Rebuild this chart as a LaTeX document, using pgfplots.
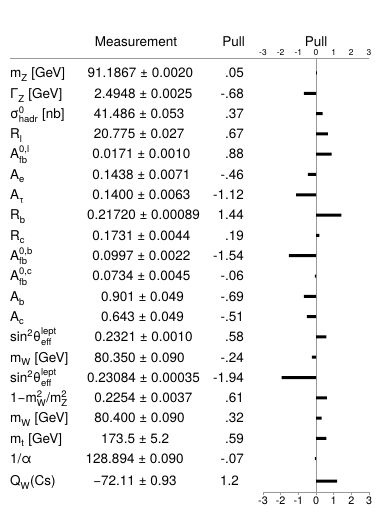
\documentclass[border=0pt]{standalone}
\usepackage{fontspec}
\setmainfont{TeX Gyre Heros}
\usepackage{amsmath}
\usepackage{pgfplots}
\pgfplotsset{compat=1.18}

% one table row: centre y (px), name, value centre x, value, pull
\newcommand\row[5]{%
  \node[txt,anchor=base west] at (10pt,-#1pt) {#2};
  \node[txt,anchor=base] at (#3pt,-#1pt) {#4};
  \node[txt,anchor=base east] at (244pt,-#1pt) {#5};}
\newcommand\su[2]{$^{\text{#1}}_{\text{#2}}$}
\newcommand\lo[1]{$^{}_{\text{#1}}$}

\begin{document}
\begin{tikzpicture}[txt/.style={font=\fontsize{13.5}{16}\selectfont, inner sep=0pt, yshift=-4.8pt}]
\useasboundingbox (0,0) rectangle (381pt,-521pt);

\begin{axis}[
    at={(263pt,-492pt)}, anchor=south west,
    width=106pt, height=434pt, scale only axis,
    xmin=-3, xmax=3, ymin=-492, ymax=-58,
    axis x line*=bottom, axis y line=none,
    x axis line style={-, draw=gray!80},
    xtick={-3,...,3}, xticklabels={-3,-2,-1,0,1,2,3},
    tick align=outside, major tick length=3pt,
    every tick/.style={gray!80},
    xticklabel style={font=\fontsize{10.8}{12}\selectfont, inner sep=2pt},
    extra x ticks={0}, extra x tick labels={},
    extra x tick style={grid=major, major grid style={gray!80, line width=0.5pt}, major tick length=0pt},
    clip=false,
]
\addplot[xbar, bar width=3pt, fill=black, draw=none] coordinates {
  (0.05,-73) (-0.68,-93.3) (0.37,-113.6) (0.67,-133.9) (0.88,-154.2)
  (-0.46,-174.5) (-1.12,-194.8) (1.44,-215.1) (0.19,-235.4) (-1.54,-255.7)
  (-0.06,-276) (-0.69,-296.3) (-0.51,-316.6) (0.58,-336.9) (-0.24,-357.2)
  (-1.94,-377.5) (0.61,-397.8) (0.32,-418.1) (0.59,-438.4) (-0.07,-458.7)
  (1.2,-481)};
\end{axis}

\begin{axis}[
    at={(263pt,-492pt)}, anchor=south west,
    width=106pt, height=434pt, scale only axis,
    xmin=-3, xmax=3, ymin=-492, ymax=-58,
    axis x line*=top, axis y line=none,
    x axis line style={draw=none},
    xtick={-3,...,3}, xticklabels={-3,-2,-1,0,1,2,3},
    major tick length=0pt,
    xticklabel style={font=\fontsize{8.5}{9}\selectfont, inner sep=2pt},
]
\end{axis}

\draw[gray!80, line width=0.5pt] (10pt,-58pt) -- (369pt,-58pt);

\node[txt,anchor=base] at (136pt,-41.7pt) {Measurement};
\node[txt,anchor=base east] at (245pt,-41.7pt) {Pull};
\node[txt,anchor=base] at (316pt,-41.7pt) {Pull};

\row{73}{m\lo{Z} [GeV]}{140.3}{91.1867 ± 0.0020}{.05}
\row{93.3}{Γ\lo{Z} [GeV]}{143.3}{2.4948 ± 0.0025}{-.68}
\row{113.6}{σ\su{0}{hadr} [nb]}{139.2}{41.486 ± 0.053}{.37}
\row{133.9}{R\lo{l}}{139.2}{20.775 ± 0.027}{.67}
\row{154.2}{A\su{0,l}{fb}}{141.3}{0.0171 ± 0.0010}{.88}
\row{174.5}{A\lo{e}}{141.3}{0.1438 ± 0.0071}{-.46}
\row{194.8}{A\lo{τ}}{141.3}{0.1400 ± 0.0063}{-1.12}
\row{215.1}{R\lo{b}}{143.5}{0.21720 ± 0.00089}{1.44}
\row{235.4}{R\lo{c}}{141.3}{0.1731 ± 0.0044}{.19}
\row{255.7}{A\su{0,b}{fb}}{141.3}{0.0997 ± 0.0022}{-1.54}
\row{276}{A\su{0,c}{fb}}{141.3}{0.0734 ± 0.0045}{-.06}
\row{296.3}{A\lo{b}}{142.5}{0.901 ± 0.049}{-.69}
\row{316.6}{A\lo{c}}{142.5}{0.643 ± 0.049}{-.51}
\row{336.9}{sin\su{2}{}θ\su{lept}{eff}}{143.7}{0.2321 ± 0.0010}{.58}
\row{357.2}{m\lo{W} [GeV]}{139.5}{80.350 ± 0.090}{-.24}
\row{377.5}{sin\su{2}{}θ\su{lept}{eff}}{143.5}{0.23084 ± 0.00035}{-1.94}
\row{397.8}{1−m\su{2}{W}/m\su{2}{Z}}{143.3}{0.2254 ± 0.0037}{.61}
\row{418.1}{m\lo{W} [GeV]}{139.5}{80.400 ± 0.090}{.32}
\row{438.4}{m\lo{t} [GeV]}{135.2}{173.5 ± 5.2}{.59}
\row{458.7}{1/α}{134.7}{128.894 ± 0.090}{-.07}
\node[txt,anchor=base west] at (10pt,-481pt) {Q\lo{W}(Cs)};
\node[txt,anchor=base] at (135pt,-481pt) {−72.11 ± 0.93};
\node[txt,anchor=base east] at (239pt,-481pt) {1.2};
\end{tikzpicture}
\end{document}
